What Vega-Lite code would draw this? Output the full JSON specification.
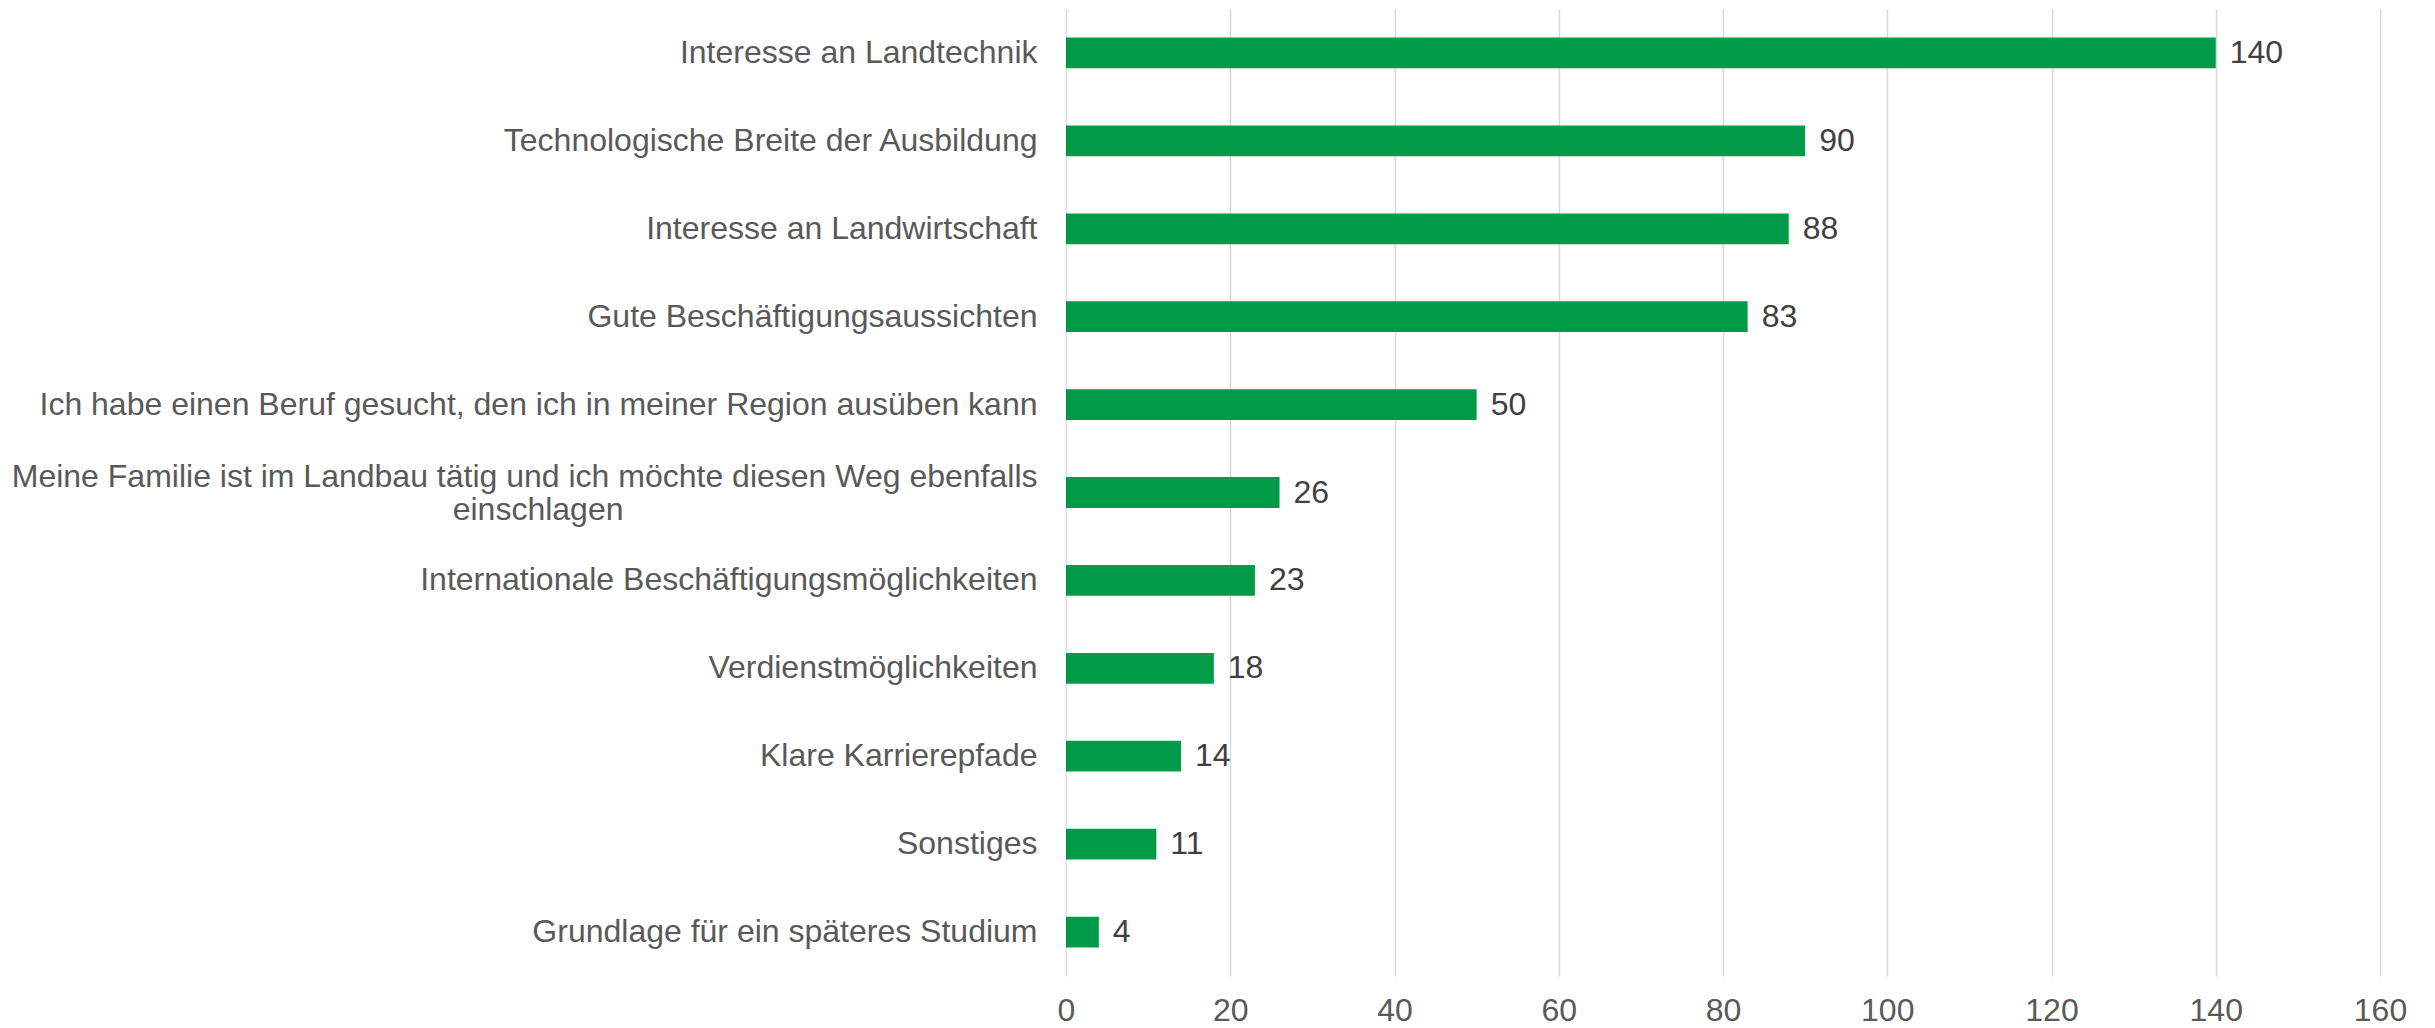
{
  "$schema": "https://vega.github.io/schema/vega-lite/v6.json",
  "autosize": {"type": "none"},
  "padding": {"left": 1066, "top": 9, "right": 55, "bottom": 52},
  "width": 1314,
  "height": 967,
  "background": "white",
  "config": {"view": {"stroke": null}, "font": "Liberation Sans"},
  "data": {
    "values": [
      {"reason": "Interesse an Landtechnik", "count": 140},
      {"reason": "Technologische Breite der Ausbildung", "count": 90},
      {"reason": "Interesse an Landwirtschaft", "count": 88},
      {"reason": "Gute Beschäftigungsaussichten", "count": 83},
      {"reason": "Ich habe einen Beruf gesucht, den ich in meiner Region ausüben kann", "count": 50},
      {"reason": "Meine Familie ist im Landbau tätig und ich möchte diesen Weg ebenfalls einschlagen", "count": 26},
      {"reason": "Internationale Beschäftigungsmöglichkeiten", "count": 23},
      {"reason": "Verdienstmöglichkeiten", "count": 18},
      {"reason": "Klare Karrierepfade", "count": 14},
      {"reason": "Sonstiges", "count": 11},
      {"reason": "Grundlage für ein späteres Studium", "count": 4}
    ]
  },
  "encoding": {
    "y": {
      "field": "reason",
      "type": "nominal",
      "sort": null,
      "scale": {"paddingInner": 0.65, "paddingOuter": 0.325},
      "axis": {
        "title": null,
        "domain": false,
        "ticks": false,
        "grid": false,
        "labelFont": "Liberation Sans",
        "labelFontSize": 32,
        "labelColor": "#595959",
        "labelPadding": 29,
        "labelLimit": 1100,
        "labelLineHeight": 33,
        "labelOffset": {"condition": {"test": "indexof(datum.value, 'Meine Familie') == 0", "value": -16}, "value": 0},
        "labelExpr": "datum.label == 'Meine Familie ist im Landbau tätig und ich möchte diesen Weg ebenfalls einschlagen' ? ['Meine Familie ist im Landbau tätig und ich möchte diesen Weg ebenfalls', 'einschlagen\u2800\u2800\u2800\u2800\u2800\u2800\u2800\u2800\u2800\u2800\u2800\u2800\u2800\u2800\u2800\u2800\u2800\u2800'] : datum.label"
      }
    },
    "x": {
      "field": "count",
      "type": "quantitative",
      "scale": {"domain": [0, 160], "nice": false},
      "axis": {
        "title": null,
        "domain": false,
        "ticks": false,
        "values": [0, 20, 40, 60, 80, 100, 120, 140, 160],
        "grid": true,
        "gridColor": "#D9D9D9",
        "gridWidth": 1.5,
        "labelFlush": false,
        "labelFont": "Liberation Sans",
        "labelFontSize": 32,
        "labelColor": "#595959",
        "labelPadding": 19
      }
    }
  },
  "layer": [
    {"mark": {"type": "bar", "color": "#009B48"}},
    {
      "mark": {"type": "text", "align": "left", "baseline": "middle", "dx": 14, "fontSize": 32, "color": "#404040", "font": "Liberation Sans"},
      "encoding": {"text": {"field": "count", "type": "quantitative"}}
    }
  ]
}
